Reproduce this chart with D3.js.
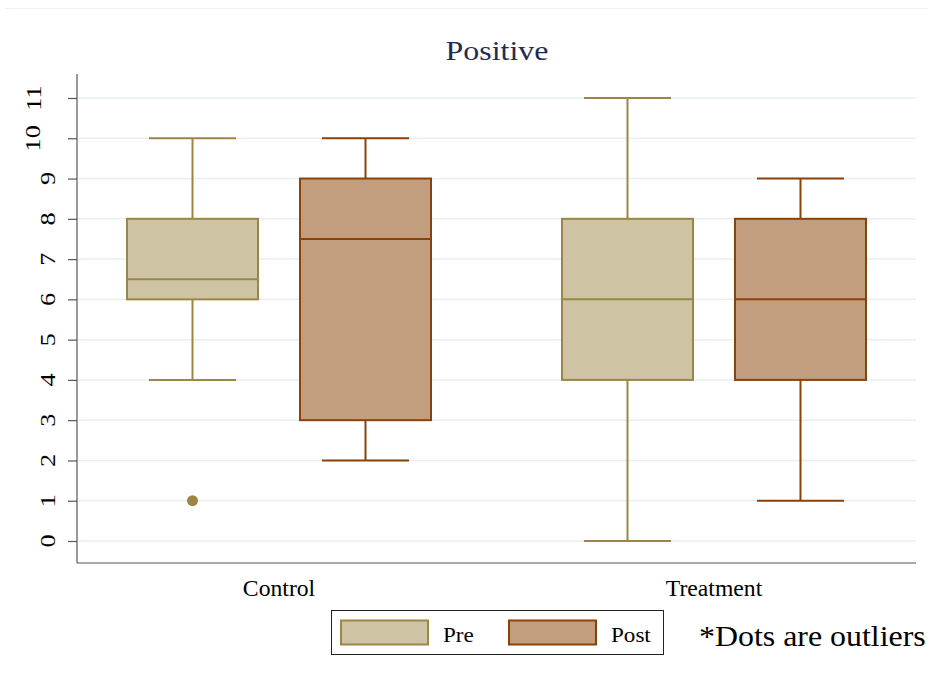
<!DOCTYPE html>
<html>
<head>
<meta charset="utf-8">
<script src="https://cdn.jsdelivr.net/npm/d3@7"></script>
<style>
  html, body { margin: 0; padding: 0; background: #fff; }
  svg { display: block; }
  text { font-family: "Liberation Serif", "Times New Roman", serif; fill: #000; }
</style>
</head>
<body>
<svg id="chart" width="928" height="681"></svg>
<script>
// Groups and phases
const groups = ["Control", "Treatment"];
const phases = ["Pre", "Post"];

// Box statistics per group/phase: [lower whisker, q1, median, q3, upper whisker]
const controlPre = [4, 6, 6.5, 8, 10];
const controlPost = [2, 3, 7.5, 9, 10];
const treatmentPre = [0, 4, 6, 8, 11];
const treatmentPost = [1, 4, 6, 8, 9];

// Outlier points
const controlPreOutliers = [1];
const controlPostOutliers = [];
const treatmentPreOutliers = [];
const treatmentPostOutliers = [];

const yTicks = [0, 1, 2, 3, 4, 5, 6, 7, 8, 9, 10, 11];

const boxes = [
  { group: "Control", phase: "Pre", stats: controlPre, outliers: controlPreOutliers },
  { group: "Control", phase: "Post", stats: controlPost, outliers: controlPostOutliers },
  { group: "Treatment", phase: "Pre", stats: treatmentPre, outliers: treatmentPreOutliers },
  { group: "Treatment", phase: "Post", stats: treatmentPost, outliers: treatmentPostOutliers }
];

const fills = { Pre: "#cec4a3", Post: "#c29e7f" };
const strokes = { Pre: "#9c8645", Post: "#8a4209" };

const svg = d3.select("#chart");
const plot = { left: 77, right: 916, top: 74, bottom: 563 };

// Text drawn with a slight horizontal widening, like the Stata export
function stretchedText(sel, str, x, y, size, sx, anchor, extra) {
  return sel.append("text")
    .attr("transform", `translate(${x},${y}) ${extra || ""} scale(${sx},1)`)
    .attr("font-size", size)
    .attr("text-anchor", anchor || "start")
    .text(str);
}

// faint frame line at the top of the canvas
svg.append("line")
  .attr("x1", 5).attr("x2", 928).attr("y1", 8.5).attr("y2", 8.5)
  .attr("stroke", "#eef3f5").attr("stroke-width", 1);

const y = d3.scaleLinear().domain([0, 11]).range([541, 98]);

const x0 = d3.scaleBand().domain(groups).range([plot.left, plot.right])
  .paddingInner(0.2).paddingOuter(0.0644);
const x1 = d3.scaleBand().domain(phases).range([0, x0.bandwidth()])
  .paddingInner(0.2428).paddingOuter(0.1272);

// gridlines
svg.append("g").selectAll("line").data(yTicks).join("line")
  .attr("x1", plot.left + 1).attr("x2", plot.right)
  .attr("y1", d => y(d)).attr("y2", d => y(d))
  .attr("stroke", "#e8eff2").attr("stroke-width", 1.5);

// y axis ticks
const yAxis = svg.append("g").attr("transform", `translate(${plot.left},0)`)
  .call(d3.axisLeft(y).tickValues(yTicks).tickSize(9).tickFormat(() => ""));
yAxis.select(".domain").remove();
yAxis.selectAll(".tick line").attr("stroke", "#555").attr("stroke-width", 1.2);

// rotated tick labels; longer labels sit further from the axis
const tickSize = 21, tickSx = 1.25;
const tickG = svg.append("g");
yTicks.forEach(v => {
  const label = d3.format("d")(v);
  const t = stretchedText(tickG, label, 0, 0, tickSize, tickSx, "middle");
  const w = t.node().getComputedTextLength() * tickSx;
  const cx = 63 - 1.145 * w;
  t.attr("dy", "0.35em")
    .attr("transform", `translate(${cx},${y(v)}) rotate(-90) scale(${tickSx},1)`);
});

svg.append("line")
  .attr("x1", plot.left).attr("x2", plot.left)
  .attr("y1", plot.top).attr("y2", plot.bottom)
  .attr("stroke", "#555").attr("stroke-width", 1.2);

// x axis
svg.append("line")
  .attr("x1", plot.left).attr("x2", plot.right)
  .attr("y1", plot.bottom).attr("y2", plot.bottom)
  .attr("stroke", "#555").attr("stroke-width", 1.2);
groups.forEach(gname => {
  stretchedText(svg, gname, x0(gname) + x0.bandwidth() / 2, 596, 23, 1.03, "middle");
});

// title
stretchedText(svg, "Positive", 497, 60, 28, 1.14, "middle").style("fill", "#1e2b57");

// boxes
const bw = x1.bandwidth();
const capW = bw * 0.665;
const g = svg.append("g").selectAll("g").data(boxes).join("g")
  .attr("transform", d => `translate(${x0(d.group) + x1(d.phase)},0)`);

// whiskers
g.append("line")
  .attr("x1", bw / 2).attr("x2", bw / 2)
  .attr("y1", d => y(d.stats[0])).attr("y2", d => y(d.stats[1]))
  .attr("stroke", d => strokes[d.phase]).attr("stroke-width", 2);
g.append("line")
  .attr("x1", bw / 2).attr("x2", bw / 2)
  .attr("y1", d => y(d.stats[3])).attr("y2", d => y(d.stats[4]))
  .attr("stroke", d => strokes[d.phase]).attr("stroke-width", 2);
// caps
g.append("line")
  .attr("x1", (bw - capW) / 2).attr("x2", (bw + capW) / 2)
  .attr("y1", d => y(d.stats[0])).attr("y2", d => y(d.stats[0]))
  .attr("stroke", d => strokes[d.phase]).attr("stroke-width", 2);
g.append("line")
  .attr("x1", (bw - capW) / 2).attr("x2", (bw + capW) / 2)
  .attr("y1", d => y(d.stats[4])).attr("y2", d => y(d.stats[4]))
  .attr("stroke", d => strokes[d.phase]).attr("stroke-width", 2);
// box
g.append("rect")
  .attr("x", 0).attr("width", bw)
  .attr("y", d => y(d.stats[3]))
  .attr("height", d => y(d.stats[1]) - y(d.stats[3]))
  .attr("fill", d => fills[d.phase])
  .attr("stroke", d => strokes[d.phase]).attr("stroke-width", 2);
// median
g.append("line")
  .attr("x1", 0).attr("x2", bw)
  .attr("y1", d => y(d.stats[2])).attr("y2", d => y(d.stats[2]))
  .attr("stroke", d => strokes[d.phase]).attr("stroke-width", 2);
// outliers
g.selectAll("circle").data(d => d.outliers.map(v => ({ v, phase: d.phase }))).join("circle")
  .attr("cx", bw / 2).attr("cy", d => y(d.v)).attr("r", 5.5)
  .attr("fill", d => strokes[d.phase]);

// legend
const lg = svg.append("g");
lg.append("rect").attr("x", 331.5).attr("y", 610.5).attr("width", 332).attr("height", 44)
  .attr("fill", "#fff").attr("stroke", "#222").attr("stroke-width", 1);
const legendX = { Pre: 341, Post: 509 };
phases.forEach(p => {
  lg.append("rect").attr("x", legendX[p]).attr("y", 620.5).attr("width", 87).attr("height", 24)
    .attr("fill", fills[p]).attr("stroke", strokes[p]).attr("stroke-width", 2);
  stretchedText(lg, p, legendX[p] + 102, 642, 22, 1.05, "start");
});

stretchedText(svg, "*Dots are outliers", 699, 646, 29, 1.1, "start");
</script>
</body>
</html>
